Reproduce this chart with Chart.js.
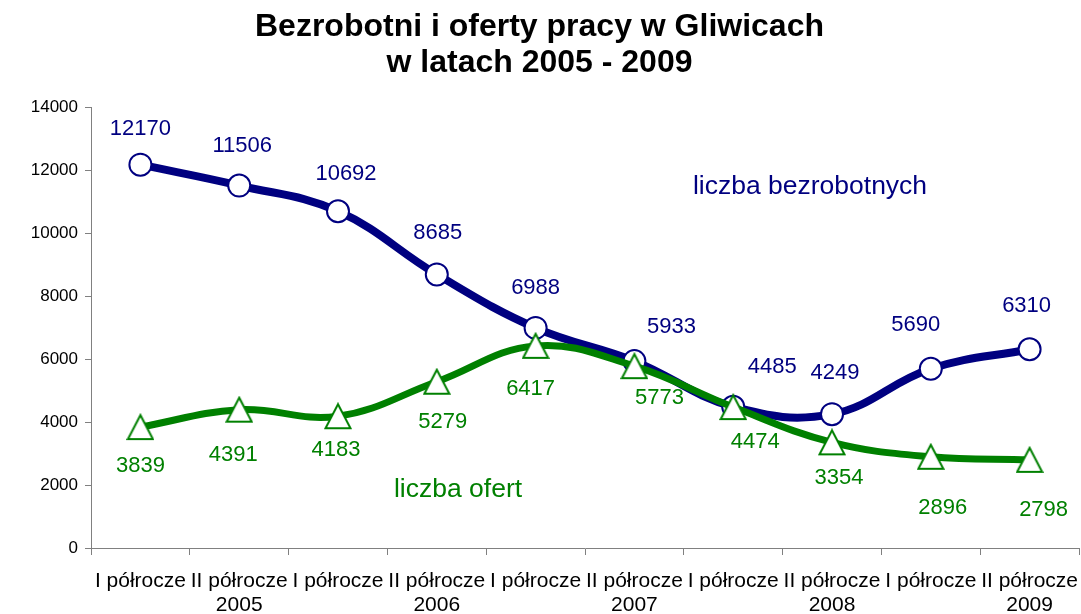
<!DOCTYPE html>
<html><head><meta charset="utf-8">
<script src="https://cdn.jsdelivr.net/npm/chart.js@4/dist/chart.umd.min.js"></script>
<style>html,body{margin:0;padding:0;background:#fff}canvas{display:block}</style>
</head><body>
<canvas id="c" width="1081" height="614"></canvas>
<script>
const categories = [
  "I półrocze", ["II półrocze", "2005"],
  "I półrocze", ["II półrocze", "2006"],
  "I półrocze", ["II półrocze", "2007"],
  "I półrocze", ["II półrocze", "2008"],
  "I półrocze", ["II półrocze", "2009"]
];
const bezrobotni = [12170, 11506, 10692, 8685, 6988, 5933, 4485, 4249, 5690, 6310];
const oferty = [3839, 4391, 4183, 5279, 6417, 5773, 4474, 3354, 2896, 2798];
const yTicks = [0, 2000, 4000, 6000, 8000, 10000, 12000, 14000];

const FONT = "'Liberation Sans', Arial, sans-serif";
const NAVY = "#000080";
const GREEN = "#008000";

// manual label placement (pixel offsets from each point), as in the original chart
const labelPlacement = {
  0: [[0,-36],[3,-40],[8,-37],[1,-41],[0,-40],[37,-34],[39,-40],[3,-41],[-15,-44],[-3,-43]],
  1: [[0,39],[-6,45],[-2,34],[6,40],[-5,43],[25,32],[22,35],[7,36],[12,51],[14,50]]
};

function makeTriangle(color) {
  const c = document.createElement('canvas');
  c.width = 28; c.height = 28;
  const g = c.getContext('2d');
  g.beginPath();
  g.moveTo(14, 2); g.lineTo(26.5, 26); g.lineTo(1.5, 26); g.closePath();
  g.fillStyle = '#fff'; g.fill();
  g.lineWidth = 2; g.strokeStyle = color; g.lineJoin = 'miter'; g.stroke();
  return c;
}

const labelPlugin = {
  id: 'valueLabels',
  afterDatasetsDraw(chart) {
    const ctx = chart.ctx;
    ctx.save();
    ctx.font = "22px " + FONT;
    ctx.textAlign = "center";
    ctx.textBaseline = "middle";
    chart.data.datasets.forEach((ds, i) => {
      const meta = chart.getDatasetMeta(i);
      ctx.fillStyle = ds.borderColor;
      meta.data.forEach((pt, j) => {
        const o = labelPlacement[i][j];
        ctx.fillText(String(ds.data[j]), pt.x + o[0], pt.y + o[1]);
      });
    });
    ctx.font = "26.5px " + FONT;
    ctx.fillStyle = NAVY;
    ctx.fillText("liczba bezrobotnych", 810, 187);
    ctx.fillStyle = GREEN;
    ctx.fillText("liczba ofert", 458, 490);
    ctx.restore();
  }
};

new Chart(document.getElementById('c'), {
  type: 'line',
  data: {
    labels: categories,
    datasets: [
      {
        label: 'liczba bezrobotnych',
        data: bezrobotni,
        borderColor: NAVY,
        borderWidth: 8,
        tension: 0.4,
        pointStyle: 'circle',
        pointRadius: 11,
        pointBorderWidth: 2,
        pointBackgroundColor: '#fff',
        pointBorderColor: NAVY,
        order: 2
      },
      {
        label: 'liczba ofert',
        data: oferty,
        borderColor: GREEN,
        borderWidth: 7,
        tension: 0.4,
        pointStyle: makeTriangle(GREEN),
        pointRadius: 13,
        pointBackgroundColor: '#fff',
        pointBorderColor: GREEN,
        order: 1
      }
    ]
  },
  options: {
    responsive: false,
    animation: false,
    layout: { autoPadding: false, padding: { left: 0, right: 2, top: 0, bottom: 0 } },
    plugins: {
      legend: { display: false },
      tooltip: { enabled: false },
      title: {
        display: true,
        text: ["Bezrobotni i oferty pracy w Gliwicach", "w latach 2005 - 2009"],
        color: '#000',
        font: { family: FONT, size: 32, weight: 'bold', lineHeight: 1.125 },
        padding: { top: 9, bottom: 26 }
      }
    },
    scales: {
      x: {
        offset: true,
        grid: { display: true, drawOnChartArea: false, offset: true, tickLength: 7, color: '#808080', tickColor: '#808080' },
        border: { color: '#808080', width: 1 },
        ticks: { color: '#000', font: { family: FONT, size: 21, lineHeight: 1.15 }, maxRotation: 0, autoSkip: false, padding: 14 },
        afterFit(s) { s.height = 66; s.paddingLeft = 0; s.paddingRight = 0; }
      },
      y: {
        min: 0, max: 14000,
        afterBuildTicks(s) { s.ticks = yTicks.map(v => ({ value: v })); },
        grid: { display: true, drawOnChartArea: false, tickLength: 6, color: '#808080', tickColor: '#808080' },
        border: { color: '#808080', width: 1 },
        ticks: { color: '#000', font: { family: FONT, size: 17 }, padding: 7, callback: v => String(v) },
        afterFit(s) { s.width = 91; }
      }
    }
  },
  plugins: [labelPlugin]
});
</script>
</body></html>
